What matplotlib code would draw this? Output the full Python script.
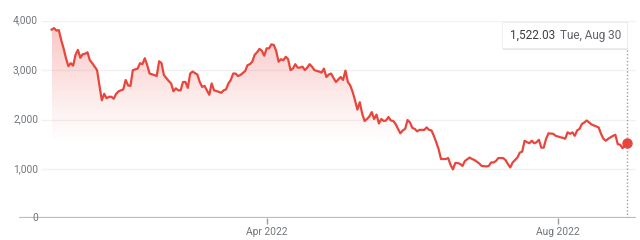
import numpy as np
import pandas as pd
import matplotlib
matplotlib.use("Agg")
import matplotlib.pyplot as plt
import matplotlib.dates as mdates
from matplotlib.patches import Rectangle

plt.rcParams['font.family'] = ['Roboto', 'DejaVu Sans']

# price series (day offset from start date, price)
start_date = "2022-01-01"
day_offsets = [0, 1, 2, 3, 4, 5, 6, 7, 8, 9, 10, 11, 12, 13, 14, 15, 16, 17, 18, 19,
               20, 21, 22, 23, 24, 25, 26, 27, 28, 30, 31, 32, 33, 34, 36, 37, 38, 39, 40, 41,
               43, 44, 45, 46, 47, 49, 50, 51, 52, 53, 54, 55, 56, 57, 58, 59, 61, 62, 63, 64,
               65, 66, 67, 68, 70, 71, 72, 73, 74, 75, 76, 77, 78, 79, 81, 82, 83, 84, 85, 86,
               87, 88, 89, 90, 91, 92, 93, 94, 95, 96, 97, 98, 99, 100, 101, 102, 103, 104, 105, 106,
               107, 108, 109, 110, 112, 113, 114, 115, 116, 117, 118, 119, 120, 121, 122, 123, 124, 125, 126, 127,
               128, 129, 130, 131, 132, 133, 134, 135, 136, 137, 138, 139, 140, 141, 142, 143, 144, 145, 146, 147,
               148, 149, 150, 151, 152, 153, 154, 156, 157, 158, 159, 160, 161, 162, 163, 165, 166, 167, 168, 169,
               170, 171, 172, 173, 175, 176, 177, 179, 180, 182, 183, 184, 185, 186, 187, 189, 190, 191, 192, 193,
               195, 196, 197, 198, 199, 200, 201, 202, 203, 204, 205, 206, 207, 208, 210, 211, 213, 214, 215, 216,
               217, 218, 219, 220, 221, 222, 223, 224, 225, 226, 228, 229, 230, 231, 232, 233, 234, 235, 236, 237,
               238, 239, 240, 241]
prices = [3820, 3850, 3800, 3810, 3610, 3440, 3240, 3080, 3140, 3090, 3310, 3410, 3250, 3320, 3330, 3360, 3200, 3140, 3070, 3000,
          2690, 2390, 2520, 2430, 2460, 2460, 2420, 2520, 2570, 2610, 2800, 2690, 2680, 3000, 3030, 3140, 3120, 3240, 3100, 2930,
          2900, 2880, 3180, 3140, 2900, 2780, 2730, 2570, 2630, 2590, 2590, 2760, 2760, 2640, 2930, 2970, 2910, 2760, 2660, 2680,
          2590, 2500, 2730, 2590, 2560, 2540, 2590, 2610, 2730, 2800, 2930, 2930, 2880, 2900, 2980, 3100, 3120, 3170, 3310, 3360,
          3430, 3390, 3290, 3440, 3440, 3520, 3510, 3390, 3170, 3220, 3200, 3270, 3220, 3000, 3030, 3120, 3050, 3050, 3070, 3000,
          3050, 3120, 3070, 3000, 2970, 2950, 3030, 2860, 2910, 2930, 2840, 2760, 2810, 2860, 2800, 2990, 2760, 2690, 2560, 2390,
          2200, 2350, 2120, 1970, 2010, 2060, 2150, 2010, 2100, 1920, 2010, 1970, 1980, 2050, 1980, 1970, 1910, 1810, 1720, 1780,
          1810, 1990, 1940, 1830, 1810, 1760, 1790, 1790, 1840, 1790, 1780, 1670, 1540, 1400, 1200, 1200, 1220, 1080, 990, 1120,
          1120, 1100, 1060, 1160, 1230, 1200, 1180, 1110, 1060, 1050, 1060, 1130, 1130, 1160, 1220, 1220, 1180, 1100, 1030, 1130,
          1230, 1330, 1350, 1570, 1540, 1520, 1570, 1520, 1540, 1590, 1430, 1430, 1610, 1720, 1710, 1670, 1640, 1630, 1610, 1740,
          1710, 1740, 1670, 1780, 1810, 1910, 1940, 1980, 1940, 1900, 1860, 1840, 1710, 1610, 1570, 1610, 1640, 1670, 1690, 1500,
          1490, 1420, 1470, 1522.03]

y_ticks = [0, 1000, 2000, 3000, 4000]
x_tick_dates = ["2022-04-01", "2022-08-01"]
x_tick_labels = ["Apr 2022", "Aug 2022"]

dates = pd.Timestamp(start_date) + pd.to_timedelta(day_offsets, unit="D")
x = mdates.date2num(dates)
y = np.array(prices, dtype=float)

red = "#e8463c"
gray_text = "#70757a"

W, H = 640, 240
fig = plt.figure(figsize=(6.4, 2.4), dpi=100)
# axes spans pixel x 19..636, y 0 at 218.3 and 4000 at 20.7
ax = fig.add_axes([19 / W, (H - 218.3) / H, (636 - 19) / W, (218.3 - 20.7) / H])
px_per_day = 2.393
x0 = x[0] - (51.7 - 19) / px_per_day
x1 = x[-1] + (636 - 627.3) / px_per_day
ax.set_xlim(x0, x1)
ax.set_ylim(0, 4000)
for s in ax.spines.values():
    s.set_visible(False)
ax.set_yticks([])

# gridlines + y labels
g0 = x0 + (42 - 19) / px_per_day
for v in y_ticks[1:]:
    ax.plot([g0, x1], [v, v], color="#f1f1f1", lw=1, zorder=0)
for v in y_ticks:
    ax.text(38 / W, (H - 218.3 + v / 4000 * 197.6) / H, f"{v:,}", transform=fig.transFigure,
            ha="right", va="center", fontsize=7.3, color=gray_text)
ax.plot([x0, x1], [0, 0], color="#bdbdbd", lw=1.6, zorder=1, solid_capstyle="butt")

# x ticks
ax.set_xticks(mdates.date2num(pd.to_datetime(x_tick_dates)))
ax.set_xticklabels(x_tick_labels, fontsize=7.4, color=gray_text)
ax.tick_params(axis="x", length=4, width=1, color="#9e9e9e", pad=2)

# gradient fill between line and last price
base = y[-1]
grad = np.linspace(0.0, 1.0, 256).reshape(-1, 1)
rgba = np.zeros((256, 1, 4))
rgba[..., 0], rgba[..., 1], rgba[..., 2] = 0.91, 0.27, 0.24
rgba[..., 3] = 0.32 * grad[:, 0:1] ** 1.1
im = ax.imshow(rgba, extent=[x[0], x[-1], base, 4000], origin="lower",
               aspect="auto", zorder=2, interpolation="bilinear")
poly = ax.fill_between(x, y, base, facecolor="none", edgecolor="none")
im.set_clip_path(poly.get_paths()[0], transform=ax.transData)
ax.set_xlim(x0, x1)
ax.set_ylim(0, 4000)

ax.plot(x, y, color=red, lw=1.6, zorder=4, solid_joinstyle="round")
ax.plot([x[-1]], [y[-1]], "o", color=red, ms=6.5, zorder=5, clip_on=False)

# hover line and tooltip
tip_bottom = (H - 48 - (H - 218.3)) / 197.6
ax.axvline(x[-1], ymin=0, ymax=tip_bottom, color="#9e9e9e", lw=1, ls=(0, (1, 1.5)), zorder=3)
fig.patches.append(Rectangle((503 / W, (H - 49.5) / H), 125 / W, 27 / H, transform=fig.transFigure,
                             facecolor="#e6e6e6", edgecolor="none", zorder=5))
fig.patches.append(Rectangle((502 / W, (H - 48) / H), 125 / W, 26 / H, transform=fig.transFigure,
                             facecolor="white", edgecolor="#ececec", lw=0.6, zorder=6))
fig.text(510 / W, (H - 35) / H, f"{prices[-1]:,.2f}", ha="left", va="center", fontsize=8.5,
         color="#3c4043", zorder=7)
fig.text(621 / W, (H - 35) / H, dates[-1].strftime("%a, %b %d").replace(" 0", " "), ha="right",
         va="center", fontsize=8.5, color="#5f6368", zorder=7)

fig.savefig("out.png", dpi=100)
